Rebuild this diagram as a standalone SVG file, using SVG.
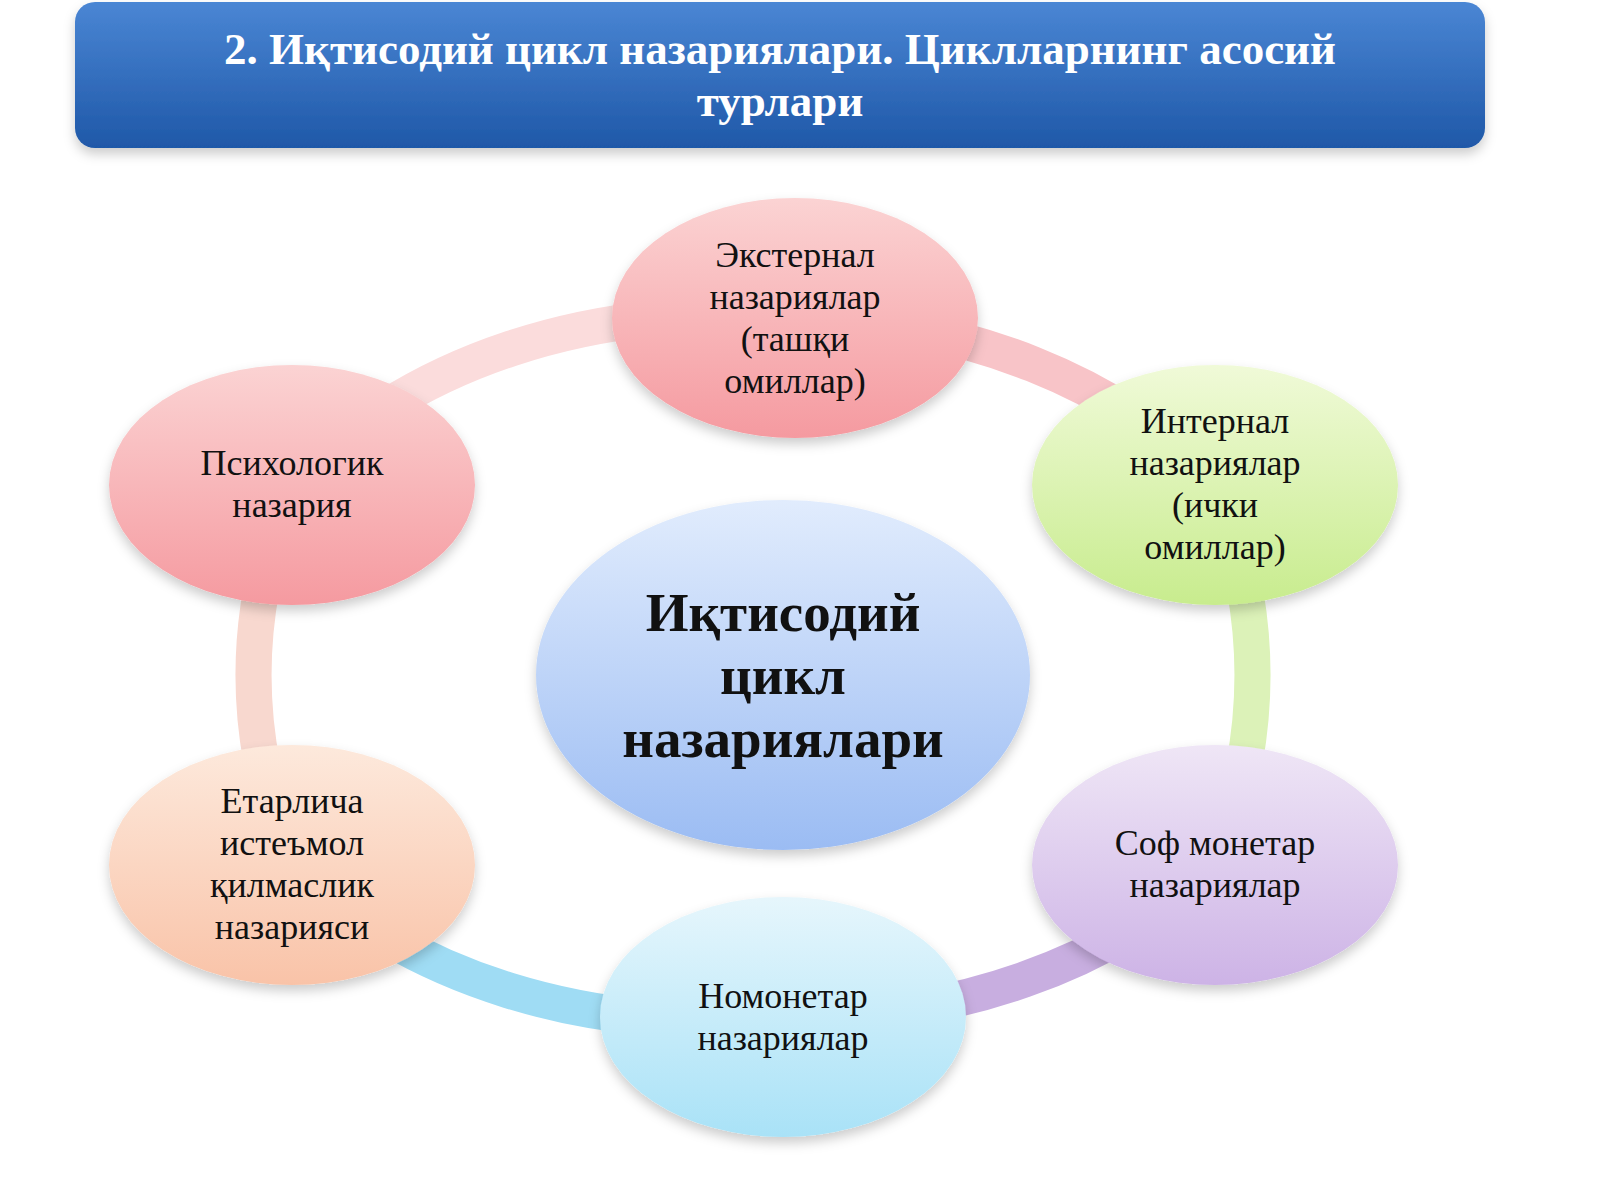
<svg xmlns="http://www.w3.org/2000/svg" width="1600" height="1200" viewBox="0 0 1600 1200">
<defs>
<linearGradient id="tb" x1="0" y1="0" x2="0" y2="1"><stop offset="0" stop-color="#4a86d4"/><stop offset="1" stop-color="#1f58a8"/></linearGradient>
<linearGradient id="pink" x1="0" y1="0" x2="0" y2="1"><stop offset="0" stop-color="#fbd3d3"/><stop offset="1" stop-color="#f59aa0"/></linearGradient>
<linearGradient id="green" x1="0" y1="0" x2="0" y2="1"><stop offset="0" stop-color="#f0fad8"/><stop offset="1" stop-color="#c8ec8e"/></linearGradient>
<linearGradient id="purple" x1="0" y1="0" x2="0" y2="1"><stop offset="0" stop-color="#efe6f6"/><stop offset="1" stop-color="#cdb3e6"/></linearGradient>
<linearGradient id="cyan" x1="0" y1="0" x2="0" y2="1"><stop offset="0" stop-color="#e6f6fc"/><stop offset="1" stop-color="#a9e2f7"/></linearGradient>
<linearGradient id="peach" x1="0" y1="0" x2="0" y2="1"><stop offset="0" stop-color="#fde9dc"/><stop offset="1" stop-color="#f9c3a8"/></linearGradient>
<linearGradient id="blue" x1="0" y1="0" x2="0" y2="1"><stop offset="0" stop-color="#e1ecfd"/><stop offset="1" stop-color="#9bbcf3"/></linearGradient>
<filter id="sh" x="-20%" y="-20%" width="140%" height="150%"><feDropShadow dx="0" dy="6" stdDeviation="6" flood-color="#000" flood-opacity="0.2"/></filter>
</defs>
<style>
.t{font-family:"Liberation Serif",serif;font-size:36px;fill:#111;text-anchor:middle}
.c{font-family:"Liberation Serif",serif;font-size:55px;font-weight:bold;fill:#111;text-anchor:middle}
.h{font-family:"Liberation Serif",serif;font-size:45px;font-weight:bold;fill:#fff;text-anchor:middle}
.r{fill:none;stroke-width:36}
</style>
<rect x="75" y="2" width="1410" height="146" rx="20" fill="url(#tb)" filter="url(#sh)"/>
<text class="h" x="780" y="64">2. Иқтисодий цикл назариялари. Циклларнинг асосий</text>
<text class="h" x="780" y="116">турлари</text>
<g id="connectors">
<path class="r" stroke="#fbdcdc" d="M 292 485 A 520 380 0 0 1 795 318"/>
<path class="r" stroke="#f8c4c8" d="M 795 318 A 520 380 0 0 1 1215 485"/>
<path class="r" stroke="#dcf2b8" d="M 1215 485 Q 1290 675 1215 865"/>
<path class="r" stroke="#c8aee0" d="M 1215 865 A 520 380 0 0 1 783 1017"/>
<path class="r" stroke="#9fdcf4" d="M 783 1017 A 520 380 0 0 1 292 865"/>
<path class="r" stroke="#f8d8cf" d="M 292 865 Q 215 675 292 485"/>
</g>
<g id="n-top"><ellipse cx="795" cy="318" rx="183" ry="120" fill="url(#pink)" filter="url(#sh)"/>
<text class="t" x="795" y="267">Экстернал</text><text class="t" x="795" y="309">назариялар</text><text class="t" x="795" y="351">(ташқи</text><text class="t" x="795" y="393">омиллар)</text></g>
<g id="n-right1"><ellipse cx="1215" cy="485" rx="183" ry="120" fill="url(#green)" filter="url(#sh)"/>
<text class="t" x="1215" y="433">Интернал</text><text class="t" x="1215" y="475">назариялар</text><text class="t" x="1215" y="517">(ички</text><text class="t" x="1215" y="559">омиллар)</text></g>
<g id="n-right2"><ellipse cx="1215" cy="865" rx="183" ry="120" fill="url(#purple)" filter="url(#sh)"/>
<text class="t" x="1215" y="855">Соф монетар</text><text class="t" x="1215" y="897">назариялар</text></g>
<g id="n-bottom"><ellipse cx="783" cy="1017" rx="183" ry="120" fill="url(#cyan)" filter="url(#sh)"/>
<text class="t" x="783" y="1008">Номонетар</text><text class="t" x="783" y="1050">назариялар</text></g>
<g id="n-left2"><ellipse cx="292" cy="865" rx="183" ry="120" fill="url(#peach)" filter="url(#sh)"/>
<text class="t" x="292" y="813">Етарлича</text><text class="t" x="292" y="855">истеъмол</text><text class="t" x="292" y="897">қилмаслик</text><text class="t" x="292" y="939">назарияси</text></g>
<g id="n-left1"><ellipse cx="292" cy="485" rx="183" ry="120" fill="url(#pink)" filter="url(#sh)"/>
<text class="t" x="292" y="475">Психологик</text><text class="t" x="292" y="517">назария</text></g>
<g id="n-center"><ellipse cx="783" cy="675" rx="247" ry="175" fill="url(#blue)" filter="url(#sh)"/>
<text class="c" x="783" y="631">Иқтисодий</text><text class="c" x="783" y="694">цикл</text><text class="c" x="783" y="757">назариялари</text></g>
</svg>
